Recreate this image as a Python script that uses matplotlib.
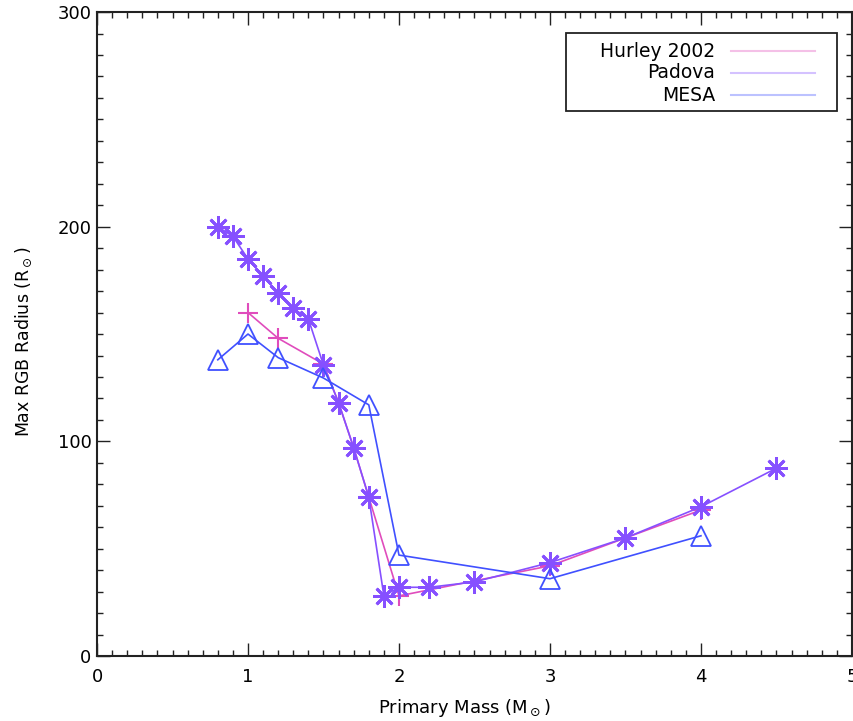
import matplotlib
matplotlib.use("Agg")
import matplotlib.pyplot as plt
from matplotlib.patches import Rectangle
from matplotlib.ticker import MultipleLocator

plt.rcParams["font.family"] = "DejaVu Sans"
plt.rcParams["mathtext.fontset"] = "dejavusans"

# maximum radius on the red giant branch vs. primary mass
hurley_mass = [1.0, 1.2, 1.5, 1.6, 1.7, 1.8, 2.0, 3.0, 4.0]
hurley_radius = [160, 148, 136, 118, 97, 74, 28, 42, 68]

padova_mass = [0.8, 0.9, 1.0, 1.1, 1.2, 1.3, 1.4, 1.5, 1.6, 1.7, 1.8, 1.9,
               2.0, 2.2, 2.5, 3.0, 3.5, 4.0, 4.5]
padova_radius = [200, 195.5, 185, 177, 169, 162, 157, 135.5, 118, 97, 74, 28,
                 32, 32, 34.5, 43.5, 55, 69.5, 87.5]

mesa_mass = [0.8, 1.0, 1.2, 1.5, 1.8, 2.0, 3.0, 4.0]
mesa_radius = [138, 150, 139, 129.5, 117, 47, 36, 56]

labels = ["Hurley 2002", "Padova", "MESA"]
colors = ["#e04cbc", "#8650ff", "#4050ff"]

fig = plt.figure(figsize=(8.54, 7.21), dpi=100)
ax = fig.add_axes([0.1136, 0.0902, 0.884, 0.893])

ax.plot(hurley_mass, hurley_radius, color=colors[0], lw=1.2,
        marker="+", ms=14, mew=1.5)
ax.plot(padova_mass, padova_radius, color=colors[1], lw=1.2,
        marker=(8, 2, 0), ms=16, mew=2.0)
ax.plot(mesa_mass, mesa_radius, color=colors[2], lw=1.2,
        marker="^", ms=15, mfc="none", mew=1.3)

ax.set_xlim(0, 5)
ax.set_ylim(0, 300)
ax.xaxis.set_major_locator(MultipleLocator(1))
ax.xaxis.set_minor_locator(MultipleLocator(0.1))
ax.yaxis.set_major_locator(MultipleLocator(100))
ax.yaxis.set_minor_locator(MultipleLocator(10))
ax.tick_params(which="both", direction="in", top=True, right=True,
               width=1.0, color="#222222")
ax.tick_params(which="major", length=9.5, labelsize=13)
ax.tick_params(axis="x", which="major", pad=9)
ax.tick_params(axis="y", which="major", pad=4)
ax.tick_params(which="minor", length=4.5)
for sp in ax.spines.values():
    sp.set_linewidth(1.5)
    sp.set_color("#222222")

ax.set_xlabel(r"Primary Mass (M$_\odot$)", fontsize=13)
ax.set_ylabel(r"Max RGB Radius (R$_\odot$)", fontsize=12.5)
ax.xaxis.set_label_coords(0.487, -0.064)
ax.yaxis.set_label_coords(-0.083, 0.488)

# legend: right-aligned names with the line sample on the right
ax.add_patch(Rectangle((0.621, 0.846), 0.359, 0.121, transform=ax.transAxes,
                       fill=False, lw=1.3, ec="#222222", zorder=5))
for i, (name, c) in enumerate(zip(labels, colors)):
    yy = [0.939, 0.906, 0.871][i]
    ax.text(0.819, yy, name, transform=ax.transAxes, ha="right",
            va="center", fontsize=13.5, zorder=6)
    ax.plot([0.840, 0.951], [yy, yy], transform=ax.transAxes, color=c,
            lw=1.5, alpha=0.35, zorder=6)

fig.savefig("out.png", dpi=100)
